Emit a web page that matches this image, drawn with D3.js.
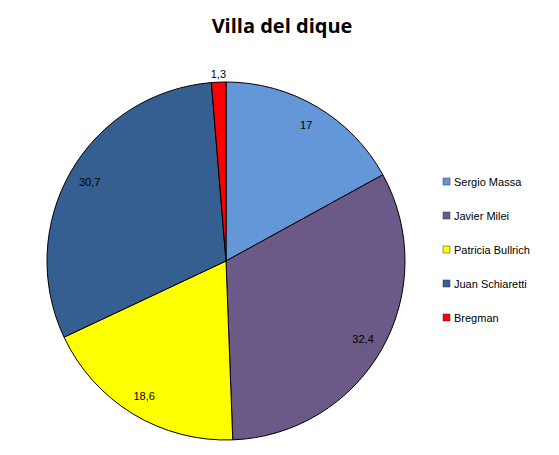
<!DOCTYPE html>
<html><head><meta charset="utf-8">
<script src="https://cdn.jsdelivr.net/npm/d3@7"></script>
<style>body{margin:0;background:#fff}</style></head>
<body><svg id="c" width="559" height="455"></svg>
<script>
const categories=["Sergio Massa","Javier Milei","Patricia Bullrich","Juan Schiaretti","Bregman"];
const values=[17,32.4,18.6,30.7,1.3];
const labels=["17","32,4","18,6","30,7","1,3"];
const colors=["#6497d8","#6b5a88","#ffff00","#365f91","#ff0000"];
const svg=d3.select("#c");
svg.append("text").attr("x",282).attr("y",33).attr("text-anchor","middle")
 .attr("font-family","Open Sans, Liberation Sans, sans-serif").attr("font-weight","bold").attr("font-size",20).text("Villa del dique");
const cx=226,cy=261,r=179;
const pie=d3.pie().sort(null).value(d=>d)(values);
const arc=d3.arc().innerRadius(0).outerRadius(r);
const g=svg.append("g").attr("transform",`translate(${cx},${cy})`);
g.selectAll("path").data(pie).join("path").attr("d",arc).attr("fill",(d,i)=>colors[i]).attr("stroke","#000").attr("stroke-width",1);
g.selectAll("text").data(pie).join("text").each(function(d,i){
  const a=(d.startAngle+d.endAngle)/2; const rr=i===4?r*1.045:r*0.88;
  d3.select(this).attr("x",rr*Math.sin(a)).attr("y",-rr*Math.cos(a)+4);
}).attr("text-anchor","middle").attr("font-family","Liberation Sans, sans-serif").attr("font-size",11).text((d,i)=>labels[i]);
const lg=svg.append("g");
categories.forEach((c,i)=>{
  const y=182+i*34;
  lg.append("rect").attr("x",443).attr("y",y-4).attr("width",7).attr("height",7).attr("fill",colors[i]).attr("stroke","#333").attr("stroke-width",0.5);
  lg.append("text").attr("x",454).attr("y",y+4).attr("font-family","Liberation Sans, sans-serif").attr("font-size",11).text(c);
});
</script></body></html>
